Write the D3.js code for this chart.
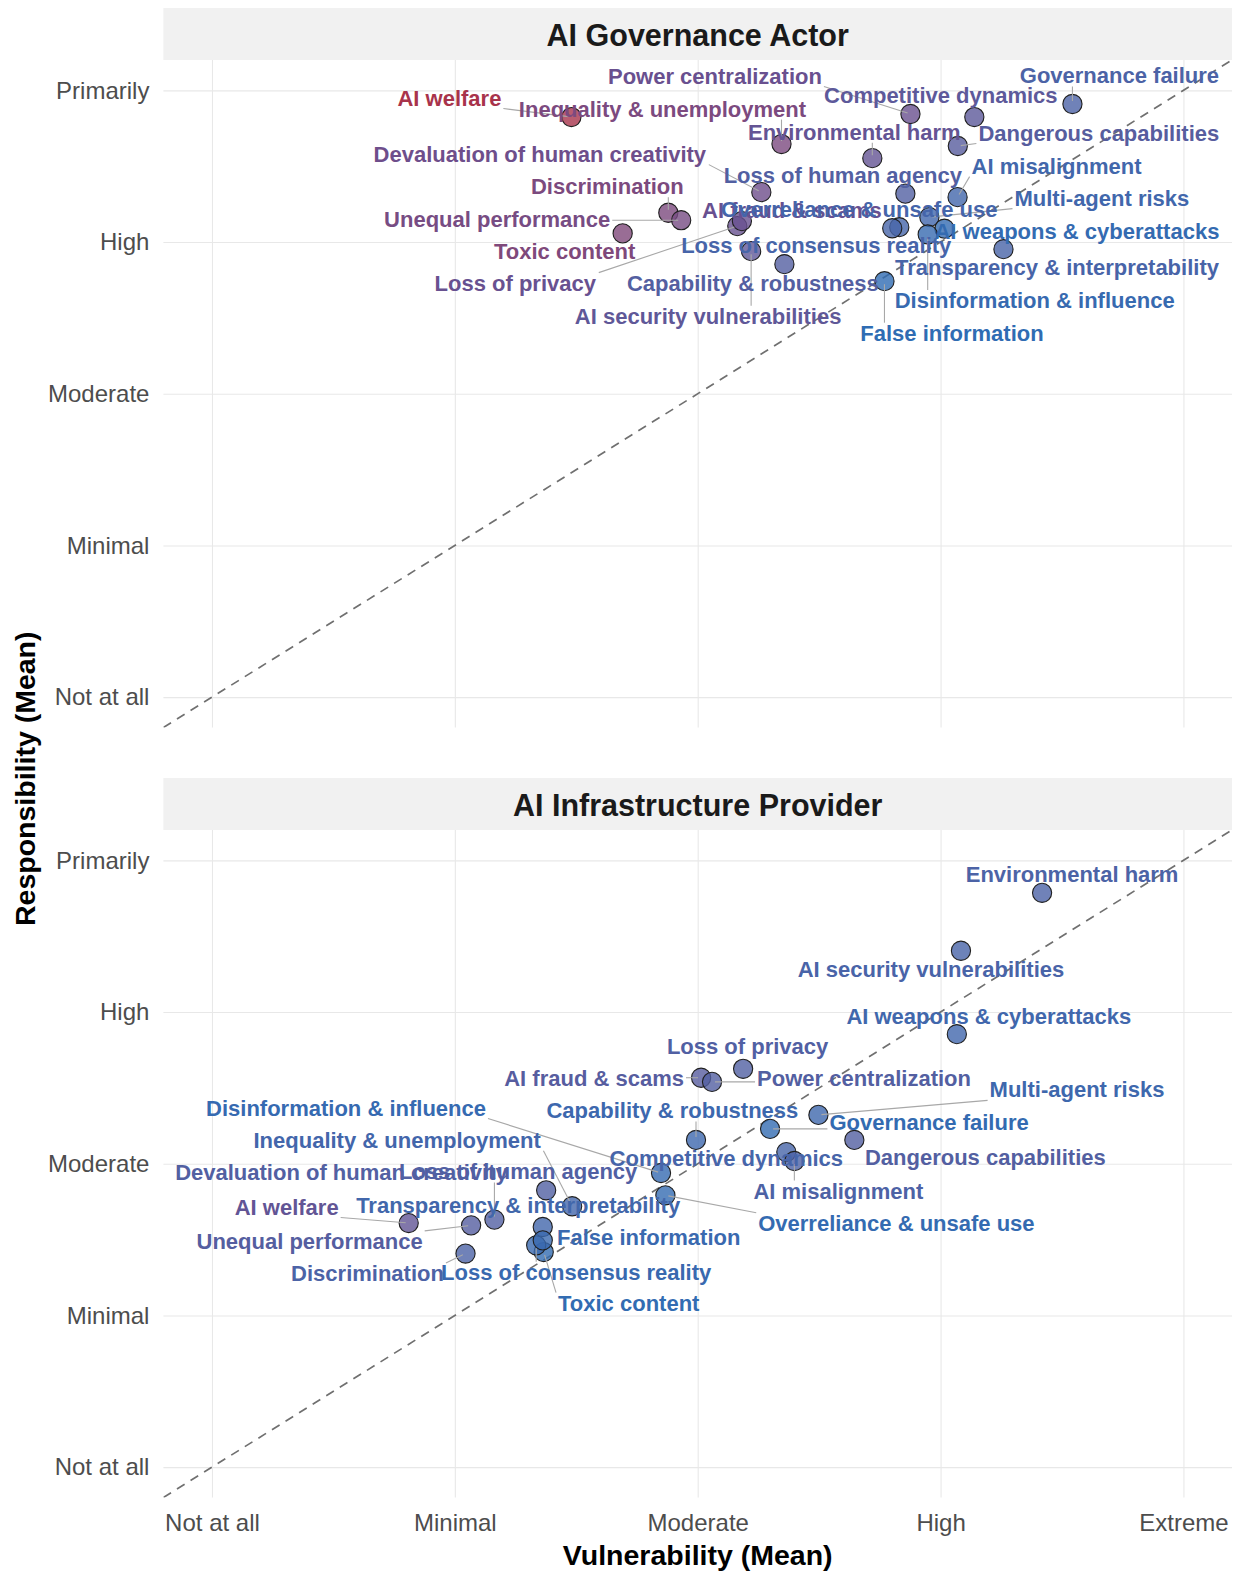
<!DOCTYPE html>
<html><head><meta charset="utf-8">
<script src="https://cdn.jsdelivr.net/npm/d3@7"></script>
<style>body{margin:0;background:#fff} svg{display:block}</style>
</head><body>
<svg id="chart" width="1239" height="1572"></svg>
<script>
// ---------------- DATA ----------------
const panels = ["AI Governance Actor", "AI Infrastructure Provider"];
const xTickLabels = ["Not at all", "Minimal", "Moderate", "High", "Extreme"];
const yTickLabels = ["Not at all", "Minimal", "Moderate", "High", "Primarily"];
const risks = [
  "AI welfare", "Inequality & unemployment", "Devaluation of human creativity", "Discrimination",
  "Unequal performance", "Toxic content", "Loss of privacy", "AI fraud & scams",
  "AI security vulnerabilities", "Capability & robustness", "Environmental harm", "Power centralization",
  "Competitive dynamics", "Governance failure", "Dangerous capabilities", "Loss of human agency",
  "AI misalignment", "Multi-agent risks", "Overreliance & unsafe use", "Loss of consensus reality",
  "AI weapons & cyberattacks", "Disinformation & influence", "Transparency & interpretability", "False information"
];
const governanceVulnerability = [2.480, 3.345, 3.262, 2.879, 2.932, 2.691, 3.163, 3.182, 3.220, 3.357, 3.719, 3.876,
  4.139, 4.543, 4.071, 3.855, 4.070, 3.954, 3.830, 3.801, 4.016, 3.947, 4.259, 3.769];
const governanceResponsibility = [4.824, 4.646, 4.329, 4.193, 4.144, 4.057, 4.105, 4.138, 3.940, 3.854, 4.553, 4.844,
  4.824, 4.910, 4.633, 4.319, 4.296, 4.164, 4.098, 4.091, 4.088, 4.050, 3.953, 3.742];
const infrastructureVulnerability = [1.810, 2.483, 2.163, 2.044, 2.067, 2.366, 3.187, 3.014, 4.084, 2.993, 4.418, 3.059,
  3.365, 3.298, 3.645, 2.376, 3.398, 3.497, 2.867, 2.335, 4.067, 2.849, 2.362, 2.362];
const infrastructureResponsibility = [2.609, 2.720, 2.632, 2.408, 2.594, 2.418, 3.626, 3.567, 4.404, 3.157, 4.786, 3.540,
  3.077, 3.230, 3.157, 2.825, 3.018, 3.322, 2.792, 2.462, 3.854, 2.939, 2.583, 2.495];

// ---------------- LAYOUT (label placement, like a repel result) ----------------
const labelNudges = [
  [[-122,-19],[-119,-35],[-221.5,-38],[-61,-26],[-184,-1],[-58,18],[-222,57],[50,-11],
   [-43,65],[-31.5,19],[-18,-26],[-195.5,-38],[-33.5,-22],[47,-28],[141,-13],[-62.5,-18.5],
   [99,-31],[172.5,-19],[-40,-18],[-76,17],[132.5,2.5],[107,66],[53.5,18],[67.5,52]],
  [[-122,-16],[-175,-66],[-153,-47.5],[-98,20],[-161.5,16],[85,51],[4.5,-22],[-107,1],
   [-30,18.6],[-23.6,-29],[30,-18.6],[152,-3],[-60,6],[159,-6],[131,18],[-28,-19],
   [44,30],[258.6,-25],[231,28],[40,27],[32,-17.6],[-315,-65],[-24.6,-22],[106,-3]]
];

const panelData = [
  risks.map((r, i) => ({risk: r, vuln: governanceVulnerability[i], resp: governanceResponsibility[i], i})),
  risks.map((r, i) => ({risk: r, vuln: infrastructureVulnerability[i], resp: infrastructureResponsibility[i], i}))
];

const svg = d3.select("#chart");
const FONT = "'Liberation Sans', Arial, Helvetica, sans-serif";
const plotLeft = 163.4, plotRight = 1232;
const layout = [
  {stripTop: 8, plotTop: 60, plotBottom: 727.5},
  {stripTop: 778, plotTop: 830, plotBottom: 1497.5}
];
const domain = [0.8, 5.2];
const x = d3.scaleLinear().domain(domain).range([plotLeft, plotRight]);
const color = d3.scaleLinear().domain([0, 1.0, 2.35])
  .range(["#2b6db4", "#6a4f8e", "#a8334b"]).interpolate(d3.interpolateLab).clamp(true);

panels.forEach((title, p) => {
  const L = layout[p];
  const y = d3.scaleLinear().domain(domain).range([L.plotBottom, L.plotTop]);
  const g = svg.append("g");

  // strip
  g.append("rect").attr("x", plotLeft).attr("y", L.stripTop)
    .attr("width", plotRight - plotLeft).attr("height", L.plotTop - L.stripTop)
    .attr("fill", "#f1f1f1");
  g.append("text").attr("x", (plotLeft + plotRight) / 2).attr("y", (L.stripTop + L.plotTop) / 2 + 0.5)
    .attr("text-anchor", "middle").attr("dominant-baseline", "central")
    .attr("font-family", FONT).attr("font-weight", "bold").attr("font-size", 30.5)
    .attr("fill", "#1a1a1a").text(title);

  // grid via axes
  const xGrid = d3.axisBottom(x).tickValues([1,2,3,4,5]).tickSize(-(L.plotBottom - L.plotTop)).tickFormat("");
  const gx = g.append("g").attr("transform", `translate(0,${L.plotBottom})`).call(xGrid);
  gx.select(".domain").remove();
  gx.selectAll("line").attr("stroke", "#e8e8e8").attr("stroke-width", 1.1);

  const yAxis = d3.axisLeft(y).tickValues([1,2,3,4,5]).tickSize(-(plotRight - plotLeft))
    .tickPadding(14).tickFormat((d, i) => yTickLabels[i]);
  const gy = g.append("g").attr("transform", `translate(${plotLeft},0)`).call(yAxis);
  gy.select(".domain").remove();
  gy.selectAll("line").attr("stroke", "#e8e8e8").attr("stroke-width", 1.1);
  gy.selectAll("text").attr("font-family", FONT).attr("font-size", 24).attr("fill", "#4d4d4d");

  // diagonal
  const clipId = "clip" + p;
  svg.append("clipPath").attr("id", clipId).append("rect")
    .attr("x", plotLeft).attr("y", L.plotTop).attr("width", plotRight - plotLeft).attr("height", L.plotBottom - L.plotTop);
  g.append("line").attr("clip-path", `url(#${clipId})`)
    .attr("x1", x(domain[0])).attr("y1", y(domain[0])).attr("x2", x(domain[1])).attr("y2", y(domain[1]))
    .attr("stroke", "#707070").attr("stroke-width", 1.7).attr("stroke-dasharray", "9,7");

  // points
  const data = panelData[p];
  g.append("g").selectAll("circle").data(data).join("circle")
    .attr("cx", d => x(d.vuln)).attr("cy", d => y(d.resp)).attr("r", 9.6)
    .attr("fill", d => color(Math.abs(d.resp - d.vuln))).attr("fill-opacity", 0.8)
    .attr("stroke", "#1f1f1f").attr("stroke-width", 1.1);

  // labels + segments
  const segG = g.append("g");
  const labG = g.append("g");
  data.forEach(d => {
    const px = x(d.vuln), py = y(d.resp);
    const [dx, dy] = labelNudges[p][d.i];
    const t = labG.append("text").attr("x", px + dx).attr("y", py + dy)
      .attr("text-anchor", "middle").attr("dominant-baseline", "central")
      .attr("font-family", FONT).attr("font-weight", "bold").attr("font-size", 22)
      .attr("fill", color(Math.abs(d.resp - d.vuln))).text(d.risk);
    const b = t.node().getBBox();
    const bx0 = b.x - 2, bx1 = b.x + b.width + 2, by0 = b.y + 2, by1 = b.y + b.height - 2;
    const sx = Math.max(bx0, Math.min(px, bx1));
    const sy = Math.max(by0, Math.min(py, by1));
    const dist = Math.hypot(px - sx, py - sy);
    if (dist > 14) {
      const k = (dist - 3) / dist;
      segG.append("line").attr("x1", sx).attr("y1", sy)
        .attr("x2", sx + (px - sx) * k).attr("y2", sy + (py - sy) * k)
        .attr("stroke", "#a8a8a8").attr("stroke-width", 1.1);
    }
  });

  // x tick labels on bottom panel only
  if (p === panels.length - 1) {
    const xAxis = d3.axisBottom(x).tickValues([1,2,3,4,5]).tickSize(0).tickPadding(16)
      .tickFormat((d, i) => xTickLabels[i]);
    const ga = g.append("g").attr("transform", `translate(0,${L.plotBottom})`).call(xAxis);
    ga.select(".domain").remove();
    ga.selectAll("text").attr("font-family", FONT).attr("font-size", 24).attr("fill", "#4d4d4d");
  }
});

// axis titles
svg.append("text").attr("x", (plotLeft + plotRight) / 2).attr("y", 1555)
  .attr("text-anchor", "middle").attr("dominant-baseline", "central")
  .attr("font-family", FONT).attr("font-weight", "bold").attr("font-size", 28.5).attr("fill", "#000")
  .text("Vulnerability (Mean)");
svg.append("text").attr("transform", `translate(25,${(layout[0].plotTop + layout[1].plotBottom) / 2}) rotate(-90)`)
  .attr("text-anchor", "middle").attr("dominant-baseline", "central")
  .attr("font-family", FONT).attr("font-weight", "bold").attr("font-size", 28.5).attr("fill", "#000")
  .text("Responsibility (Mean)");
</script>
</body></html>
